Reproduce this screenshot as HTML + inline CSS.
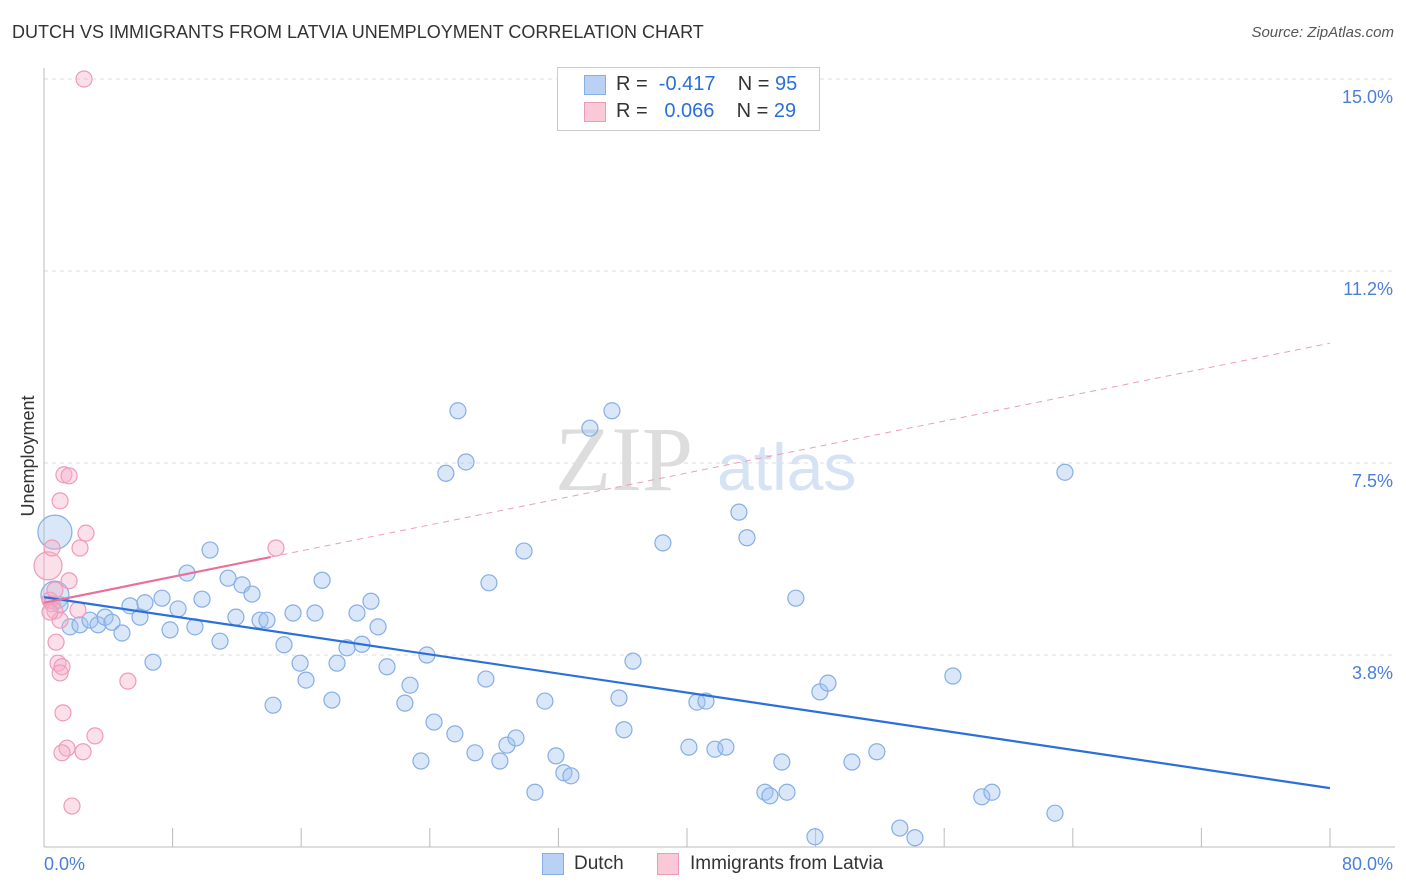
<!DOCTYPE html>
<html><head><meta charset="utf-8"><style>
body{margin:0;background:#fff;font-family:"Liberation Sans",sans-serif;}
#wrap{position:relative;width:1406px;height:892px;overflow:hidden;}
.t{position:absolute;white-space:nowrap;}
</style></head><body>
<div id="wrap">
<div class="t" style="left:12px;top:22px;font-size:18px;color:#333;">DUTCH VS IMMIGRANTS FROM LATVIA UNEMPLOYMENT CORRELATION CHART</div>
<div class="t" style="right:12px;top:24px;font-size:15px;color:#555;font-style:italic;">Source: ZipAtlas.com</div>
<svg id="svg" width="1406" height="892" style="position:absolute;left:0;top:0"></svg>
</div>
<script>
const xTicks=[0,8,16,24,32,40,48,56,64,72,80];
const yTicks=[3.75,7.5,11.25,15];
const yTickLabels=["3.8%","7.5%","11.2%","15.0%"];
const dutchX=[0.68,0.68,1.0,1.62,2.24,2.86,3.36,3.8,4.23,4.85,5.35,5.97,6.28,6.78,7.34,7.84,8.34,8.9,9.39,9.83,10.33,10.95,11.45,11.94,12.32,12.94,13.44,13.87,14.25,14.93,15.49,15.93,16.3,16.86,17.3,17.91,18.23,18.85,19.47,19.78,20.34,20.78,21.34,22.45,22.77,23.45,23.82,24.26,25.0,25.56,25.75,26.25,26.81,27.49,27.68,28.36,28.8,29.36,29.86,30.54,31.16,31.85,32.34,32.78,33.96,35.33,35.77,36.08,36.64,38.5,40.12,40.62,41.18,41.74,42.42,43.23,43.73,44.85,45.16,45.9,46.22,46.77,47.96,48.27,48.77,50.26,51.81,53.24,54.18,56.54,58.34,58.97,62.89,63.51];
const dutchY=[6.15,4.92,4.73,4.30,4.34,4.43,4.34,4.49,4.39,4.18,4.71,4.49,4.77,3.61,4.86,4.24,4.65,5.35,4.30,4.84,5.80,4.02,5.25,4.49,5.12,4.94,4.43,4.43,2.77,3.95,4.57,3.59,3.26,4.57,5.21,2.87,3.59,3.89,4.57,3.96,4.80,4.30,3.52,2.81,3.16,1.68,3.75,2.44,7.30,2.21,8.52,7.52,1.84,3.28,5.16,1.68,1.99,2.13,5.78,1.07,2.85,1.78,1.45,1.39,8.18,8.52,2.91,2.29,3.63,5.94,1.95,2.83,2.85,1.91,1.95,6.54,6.04,1.07,1.0,1.66,1.07,4.86,0.2,3.03,3.2,1.66,1.86,0.37,0.18,3.34,0.98,1.07,0.66,7.32];
const latviaX=[2.49,0.25,0.5,0.37,0.5,0.68,1.0,1.24,1.56,1.0,1.56,2.24,2.61,0.75,0.87,1.12,1.0,2.11,5.22,1.18,1.43,1.12,2.43,3.17,1.74,14.43,0.37,0.68];
const latviaY=[15.0,5.49,5.84,4.82,4.75,4.61,4.43,7.27,7.25,6.76,5.2,5.84,6.13,4.0,3.59,3.52,3.4,4.63,3.24,2.62,1.93,1.84,1.86,2.17,0.8,5.84,4.59,5.02];
const dutchTrend=[4.88,1.15];
const latviaTrend=[4.77,9.84];
const latviaSolidEnd=14.1;
const X0=44,X1=1330,Y0=847,PPU=51.2;
const xs=v=>X0+v/80*(X1-X0);
const ys=v=>Y0-v*PPU;
const svg=document.getElementById('svg');
const NS='http://www.w3.org/2000/svg';
function mk(tag,attrs){const e=document.createElementNS(NS,tag);for(const k in attrs)e.setAttribute(k,attrs[k]);svg.appendChild(e);return e;}
// grid
yTicks.forEach((v,i)=>{
 let g=mk('line',{x1:X0,x2:1395,y1:ys(v),y2:ys(v),stroke:'#ddd','stroke-dasharray':'4,4'});
 
 
 let t=mk('text',{x:1393,y:ys(v)+24,'text-anchor':'end','font-size':18,fill:'#4a7fd8','font-family':'Liberation Sans, sans-serif'});
 t.textContent=yTickLabels[i];
 
 
});
let ax=mk('line',{x1:X0,x2:X0,y1:68,y2:Y0,stroke:'#bbb'});


let bx=mk('line',{x1:X0,x2:1395,y1:Y0,y2:Y0,stroke:'#bbb'});


xTicks.forEach(v=>{
 let l=mk('line',{x1:xs(v),x2:xs(v),y1:828,y2:Y0,stroke:'#bbb'});
 
 
});
[[0,'0.0%','start',44],[80,'80.0%','end',1393]].forEach(a=>{
 let t=mk('text',{x:a[3],y:870,'text-anchor':a[2],'font-size':18,fill:'#4a7fd8','font-family':'Liberation Sans, sans-serif'});
 t.textContent=a[1];
 
 
});
// watermark
let wm=mk('text',{x:555,y:490,'font-size':92,fill:'#ddd','font-family':'Liberation Serif, serif'});wm.textContent='ZIP';


let wm2=mk('text',{x:717,y:490,'font-size':66,fill:'#d5e3f5','font-family':'Liberation Sans, sans-serif'});wm2.textContent='atlas';


// points
dutchX.forEach((v,i)=>{
 let r=(i===0)?17:(i===1?14:8);
 let c=mk('circle',{cx:xs(v),cy:ys(dutchY[i]),r:r,fill:'rgba(160,195,240,0.4)',stroke:'#86aee6','stroke-width':1.2});
 
 
});
latviaX.forEach((v,i)=>{
 let r=(i===1)?14:8;
 let c=mk('circle',{cx:xs(v),cy:ys(latviaY[i]),r:r,fill:'rgba(245,175,200,0.4)',stroke:'#f09ab8','stroke-width':1.2});
 
 
});
// trends
let bt=mk('line',{x1:xs(0),y1:ys(dutchTrend[0]),x2:xs(80),y2:ys(dutchTrend[1]),stroke:'#2a6fdb','stroke-width':2.2});


const ly=v=>latviaTrend[0]+(latviaTrend[1]-latviaTrend[0])*v/80;
let pd=mk('line',{x1:xs(latviaSolidEnd),y1:ys(ly(latviaSolidEnd)),x2:xs(80),y2:ys(latviaTrend[1]),stroke:'#e8a0b8','stroke-width':1,'stroke-dasharray':'6,5'});


let ps=mk('line',{x1:xs(0),y1:ys(latviaTrend[0]),x2:xs(latviaSolidEnd),y2:ys(ly(latviaSolidEnd)),stroke:'#e8709a','stroke-width':2.2});


// y title
let yt=mk('text',{x:34,y:456,'text-anchor':'middle','font-size':18,fill:'#333',transform:'rotate(-90 34 456)','font-family':'Liberation Sans, sans-serif'});
yt.textContent='Unemployment';


</script>
<div class="t" style="left:557px;top:67px;width:261px;height:62px;border:1px solid #ccc;background:#fff;"></div>
<div class="t" style="left:584px;top:75px;width:20px;height:18px;background:#b9d2f4;border:1px solid #86aee6;"></div>
<div class="t" style="left:616px;top:73px;font-size:20px;color:#333;">R = <span style="color:#2a6fdb">&nbsp;-0.417</span>&nbsp;&nbsp;&nbsp; N = <span style="color:#2a6fdb">95</span></div>
<div class="t" style="left:584px;top:102px;width:20px;height:18px;background:#f9c9d8;border:1px solid #f09ab8;"></div>
<div class="t" style="left:616px;top:100px;font-size:20px;color:#333;">R = <span style="color:#2a6fdb">&nbsp;&nbsp;0.066</span>&nbsp;&nbsp;&nbsp; N = <span style="color:#2a6fdb">29</span></div>
<div class="t" style="left:542px;top:853px;width:20px;height:20px;background:#b9d2f4;border:1px solid #86aee6;"></div>
<div class="t" style="left:574px;top:853px;font-size:19px;color:#333;">Dutch</div>
<div class="t" style="left:657px;top:853px;width:20px;height:20px;background:#f9c9d8;border:1px solid #f09ab8;"></div>
<div class="t" style="left:690px;top:853px;font-size:19px;color:#333;">Immigrants from Latvia</div>
</body></html>
